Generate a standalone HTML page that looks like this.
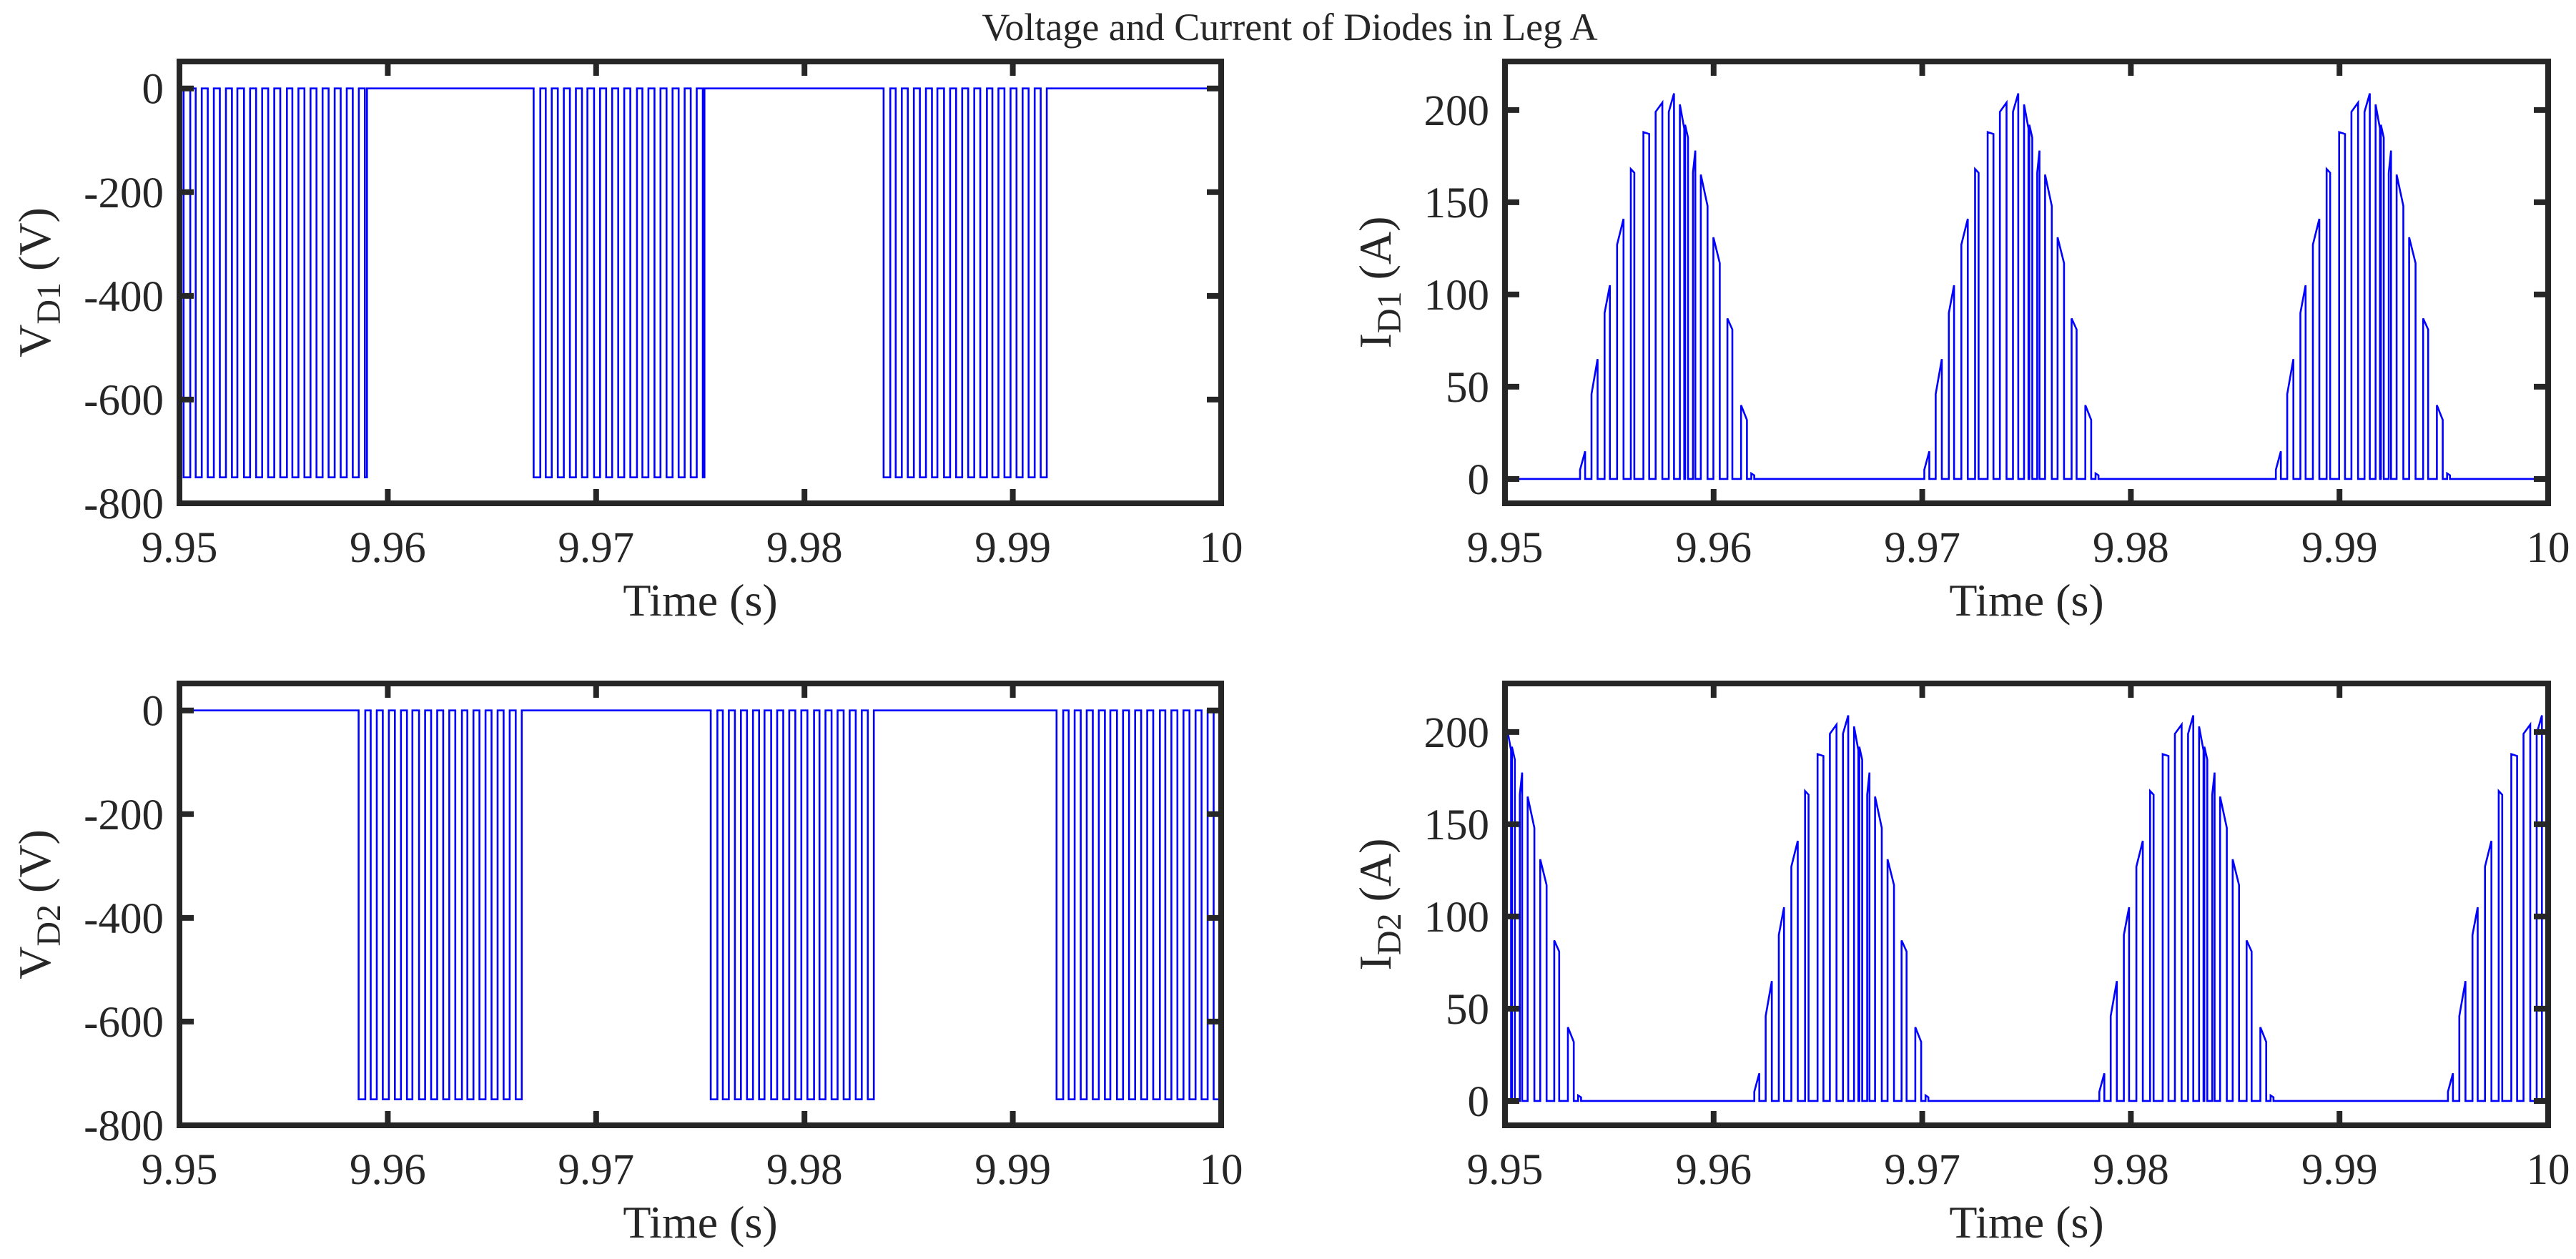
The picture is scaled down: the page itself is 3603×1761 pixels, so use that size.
<!DOCTYPE html>
<html><head><meta charset="utf-8"><title>Voltage and Current of Diodes in Leg A</title>
<style>
html,body{margin:0;padding:0;background:#fff;}
svg{display:block;font-family:"Liberation Serif","DejaVu Serif",serif;}
</style></head>
<body>
<svg id="fig" width="3603" height="1761" viewBox="0 0 3603 1761" xmlns="http://www.w3.org/2000/svg">
<rect width="3603" height="1761" fill="#fff"/>
<text x="1804" y="56" font-size="54" text-anchor="middle" fill="#262626">Voltage and Current of Diodes in Leg A</text>
</svg>
<script>
// ---- data ----
const xTicks = [9.95, 9.96, 9.97, 9.98, 9.99, 10];
const xTickLabels = ["9.95", "9.96", "9.97", "9.98", "9.99", "10"];
const vTicks = [0, -200, -400, -600, -800];
const vTickLabels = ["0", "-200", "-400", "-600", "-800"];
const iTicks = [0, 50, 100, 150, 200];
const iTickLabels = ["0", "50", "100", "150", "200"];
// voltage switching windows (s)
const vd1WindowStart = [9.9502, 9.9670, 9.9838];
const vd1WindowEnd   = [9.9590, 9.9752, 9.9917];
const vd2WindowStart = [9.9586, 9.9755, 9.9921];
const vd2WindowEnd   = [9.9667, 9.9835, 10.0000];
const vLowLevel = -750;
const vSwitchPeriod = 0.00058;
const vDuty = [0.55, 0.5, 0.5, 0.5, 0.45, 0.5, 0.5, 0.5, 0.55, 0.5, 0.5, 0.5, 0.5, 0.5, 0.5];
// current hump: pulse start/end (ms from hump start) and values at rise/fall (A)
const pulseStartMs = [0.00, 0.545, 1.174, 1.775, 2.432, 3.034, 3.621, 4.250, 4.781, 5.033, 5.410, 5.788, 6.389, 7.060, 7.717, 8.206];
const pulseEndMs   = [0.24, 0.839, 1.426, 2.083, 2.600, 3.313, 3.942, 4.502, 4.991, 5.173, 5.522, 6.109, 6.696, 7.298, 7.997, 8.346];
const pulseRiseA   = [5, 46, 90, 127, 168, 188, 199, 199, 203, 192, 166, 165, 131, 87, 40, 3];
const pulseFallA   = [15, 65, 105, 141, 166, 187, 204, 209, 190, 185, 178, 148, 117, 81, 32, 2];
const id1HumpStart = [9.9536, 9.9701, 9.98695];
const id2HumpStart = [9.9453, 9.96195, 9.97849, 9.9952];

// ---- drawing ----
const NS = "http://www.w3.org/2000/svg";
const svg = document.getElementById("fig");
function el(tag, attrs, parent) {
  const e = document.createElementNS(NS, tag);
  for (const k in attrs) e.setAttribute(k, attrs[k]);
  (parent || svg).appendChild(e);
  return e;
}
const panels = [
  {id:"vd1", L:251, R:1708, T:86, B:704, ymin:-800, ymax:52, ticks:vTicks, labels:vTickLabels, lab:"V", sub:"D1", unit:" (V)", lx:50},
  {id:"id1", L:2105, R:3564, T:86, B:704, ymin:-13.2, ymax:226.3, ticks:iTicks, labels:iTickLabels, lab:"I", sub:"D1", unit:" (A)", lx:1925},
  {id:"vd2", L:251, R:1708, T:956, B:1574, ymin:-800, ymax:52, ticks:vTicks, labels:vTickLabels, lab:"V", sub:"D2", unit:" (V)", lx:50},
  {id:"id2", L:2105, R:3564, T:956, B:1574, ymin:-13.2, ymax:226.3, ticks:iTicks, labels:iTickLabels, lab:"I", sub:"D2", unit:" (A)", lx:1925}
];
function sx(p, t) { return p.L + (t - 9.95) / 0.05 * (p.R - p.L); }
function sy(p, v) { return p.B - (v - p.ymin) / (p.ymax - p.ymin) * (p.B - p.T); }

function voltagePath(p, ws, we) {
  let pts = [[9.95, 0]];
  for (let w = 0; w < ws.length; w++) {
    let t = ws[w]; let k = 0;
    while (t < we[w] - 1e-6) {
      const d = vDuty[k % vDuty.length];
      const tl = Math.min(t + vSwitchPeriod * d, we[w]);
      pts.push([t, 0], [t, vLowLevel], [tl, vLowLevel], [tl, 0]);
      t += vSwitchPeriod; k++;
    }
  }
  pts.push([10, 0]);
  return pts;
}
function currentPath(p, starts) {
  let pts = [[9.95, 0]];
  for (const s of starts) {
    for (let i = 0; i < pulseStartMs.length; i++) {
      const a = s + pulseStartMs[i] / 1000, b = s + pulseEndMs[i] / 1000;
      pts.push([a, 0], [a, pulseRiseA[i]], [b, pulseFallA[i]], [b, 0]);
    }
  }
  pts.push([10, 0]);
  return pts;
}

panels.forEach(p => {
  const g = el("g", {});
  
  
  const clipId = "clip-" + p.id;
  const cp = el("clipPath", {id: clipId}, g);
  el("rect", {x:p.L, y:p.T, width:p.R-p.L, height:p.B-p.T}, cp);
  let pts;
  if (p.id === "vd1") pts = voltagePath(p, vd1WindowStart, vd1WindowEnd);
  else if (p.id === "vd2") pts = voltagePath(p, vd2WindowStart, vd2WindowEnd);
  else if (p.id === "id1") pts = currentPath(p, id1HumpStart);
  else pts = currentPath(p, id2HumpStart);
  const d = pts.map((q, i) => (i ? "L" : "M") + sx(p, q[0]).toFixed(1) + " " + sy(p, q[1]).toFixed(1)).join("");
  const line = el("path", {d:d, fill:"none", stroke:"#0000ff", "stroke-width":"2.6", "clip-path":"url(#" + clipId + ")"}, g);
  
  
  const fr = el("rect", {x:p.L, y:p.T, width:p.R-p.L, height:p.B-p.T, fill:"none", stroke:"#262626", "stroke-width":"8"}, g);
  
  
  xTicks.forEach((t, i) => {
    const x = sx(p, t);
    el("line", {x1:x, x2:x, y1:p.B, y2:p.B-20, stroke:"#262626", "stroke-width":"8"}, g);
    el("line", {x1:x, x2:x, y1:p.T, y2:p.T+20, stroke:"#262626", "stroke-width":"8"}, g);
    const tx = el("text", {x:x, y:p.B+82, "font-size":"61", "text-anchor":"middle", fill:"#262626"}, g);
    
    
    tx.textContent = xTickLabels[i];
  });
  p.ticks.forEach((v, i) => {
    const y = sy(p, v);
    el("line", {x1:p.L, x2:p.L+20, y1:y, y2:y, stroke:"#262626", "stroke-width":"8"}, g);
    el("line", {x1:p.R, x2:p.R-20, y1:y, y2:y, stroke:"#262626", "stroke-width":"8"}, g);
    const ty = el("text", {x:p.L-22, y:y+21, "font-size":"61", "text-anchor":"end", fill:"#262626"}, g);
    
    
    ty.textContent = p.labels[i];
  });
  const xl = el("text", {x:(p.L+p.R)/2, y:p.B+157, "font-size":"64", "text-anchor":"middle", fill:"#262626"}, g);
  
  
  xl.textContent = "Time (s)";
  const cy = (p.T + p.B) / 2;
  const yl = el("text", {x:0, y:0, "font-size":"64", "text-anchor":"middle", fill:"#262626", transform:"translate(" + (p.lx+20) + "," + cy + ") rotate(-90)"}, g);
  
  
  const t1 = el("tspan", {}, yl); t1.textContent = p.lab;
  const t2 = el("tspan", {"font-size":"48", dy:"14"}, yl); t2.textContent = p.sub;
  const t3 = el("tspan", {dy:"-14"}, yl); t3.textContent = p.unit;
});
</script>
</body></html>
